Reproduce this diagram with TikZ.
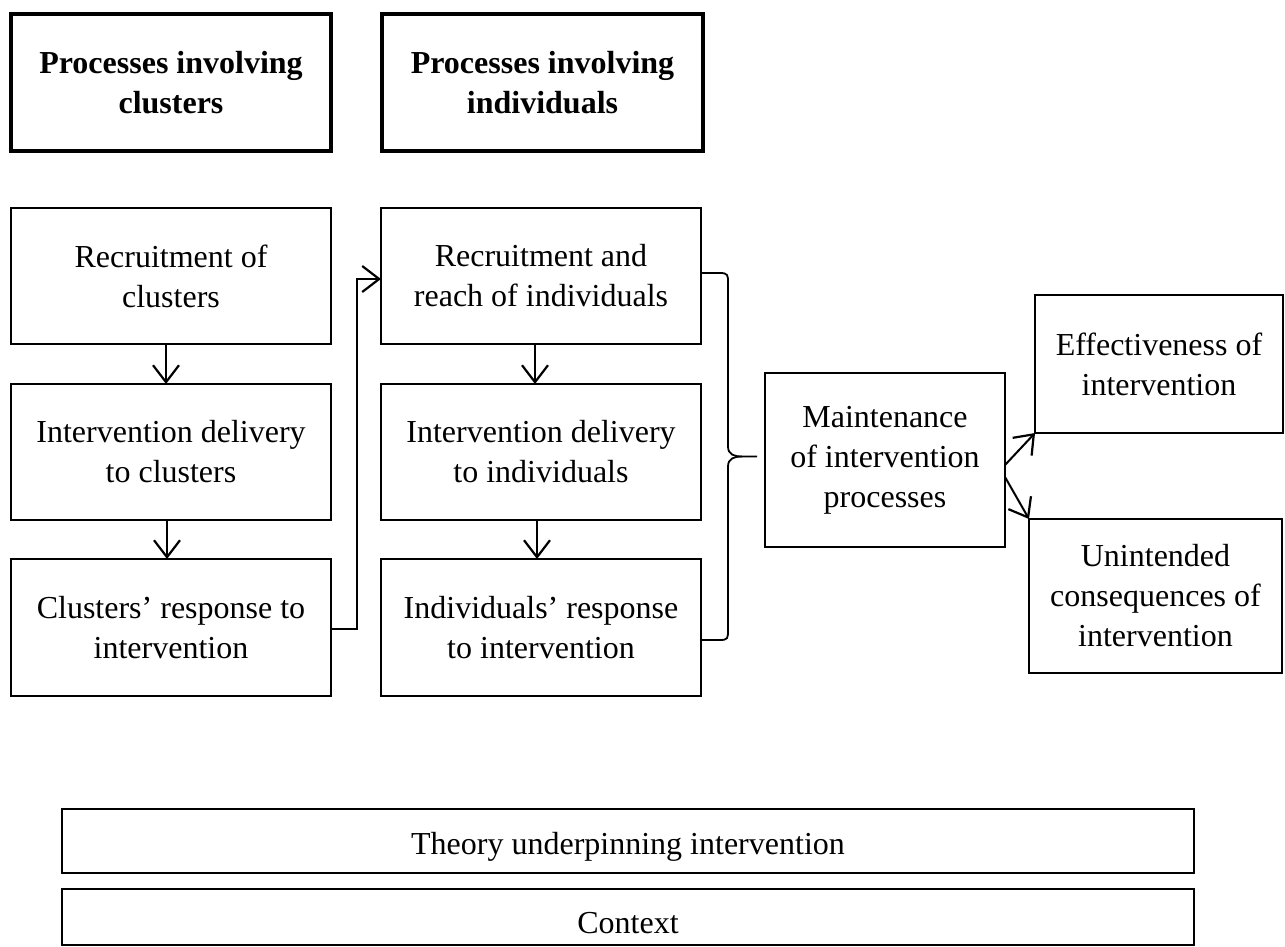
\documentclass[tikz,border=0pt]{standalone}
\usepackage{fontspec}
\setmainfont{Liberation Serif}
\usetikzlibrary{arrows.meta,calc}
\begin{document}
\begin{tikzpicture}[x=1pt,y=-1pt,
  box/.style={draw,line width=1.6pt,inner sep=0pt,outer sep=0pt,align=center,
    font=\fontsize{32}{40}\selectfont},
  headbox/.style={draw,line width=4.5pt,inner sep=0pt,outer sep=0pt,align=center,
    font=\fontsize{32}{40}\selectfont\bfseries},
  arr/.style={line width=2pt,-{Straight Barb[length=17pt,width=26pt,line width=2.2pt]}},
  link/.style={line width=1.8pt}]
\useasboundingbox (0,0) rectangle (1285,946);

\node[headbox,minimum width=320,minimum height=137] (t1) at (171,82.5) {Processes involving\\clusters};
\node[headbox,minimum width=321,minimum height=137] (t2) at (542.5,82.5) {Processes involving\\individuals};

\node[box,minimum width=320,minimum height=136] (c1) at (171,276) {Recruitment of\\clusters};
\node[box,minimum width=320,minimum height=136] (c2) at (171,452) {Intervention delivery\\to clusters};
\node[box,minimum width=320,minimum height=137] (c3) at (171,627.5) {Clusters’ response to\\intervention};

\node[box,minimum width=320,minimum height=136] (r1) at (541,276) {Recruitment and\\reach of individuals};
\node[box,minimum width=320,minimum height=136] (r2) at (541,452) {Intervention delivery\\to individuals};
\node[box,minimum width=320,minimum height=137] (r3) at (541,627.5) {Individuals’ response\\to intervention};

\node[box,minimum width=240,minimum height=174] (m) at (885,460) {Maintenance\\of intervention\\processes};
\node[box,minimum width=248,minimum height=138] (e) at (1159,364) {Effectiveness of\\intervention};
\node[box,minimum width=253,minimum height=154] (u) at (1155.5,596) {Unintended\\consequences of\\intervention};

\node[box,minimum width=1132,minimum height=64] (th) at (628,841) {\smash{\raisebox{-13pt}{Theory underpinning intervention}}};
\node[box,minimum width=1132,minimum height=56] (cx) at (628,917) {\smash{\raisebox{-16pt}{Context}}};

% vertical arrows
\draw[arr] ([xshift=-5pt]c1.south) -- ([xshift=-5pt]c2.north);
\draw[arr] ([xshift=-4pt]c2.south) -- ([xshift=-4pt]c3.north);
\draw[arr] ([xshift=-6pt]r1.south) -- ([xshift=-6pt]r2.north);
\draw[arr] ([xshift=-4pt]r2.south) -- ([xshift=-4pt]r3.north);

% elbow connector
\draw[arr] ([yshift=-1.5pt]c3.east) -- ++(26,0) |- ([yshift=-3pt]r1.west);

% brace
\coordinate (bt) at ([yshift=3pt]r1.east);
\coordinate (bb) at ([yshift=-12.5pt]r3.east);
\coordinate (bm) at ($(bt)!0.5!(bb)$);
\draw[link] (bt) -- ++(19,0)
  .. controls ++(8,0) and ++(0,-8) .. ++(8,10)
  -- ($(bm)+(27,-10)$)
  .. controls ++(0,8) and ++(-8,0) .. ($(bm)+(41,0)$)
  -- ($(bm)+(56,0)$);
\draw[link] ($(bm)+(41,0)$)
  .. controls ++(-8,0) and ++(0,-8) .. ($(bm)+(27,10)$)
  -- ($(bb)+(27,-10)$)
  .. controls ++(0,8) and ++(8,0) .. ($(bb)+(19,0)$)
  -- (bb);

% diagonal arrows
\draw[arr] ([yshift=-5pt]m.east) -- (e.south west);
\draw[arr] ([yshift=-17pt]m.east) -- (u.north west);
\end{tikzpicture}
\end{document}
